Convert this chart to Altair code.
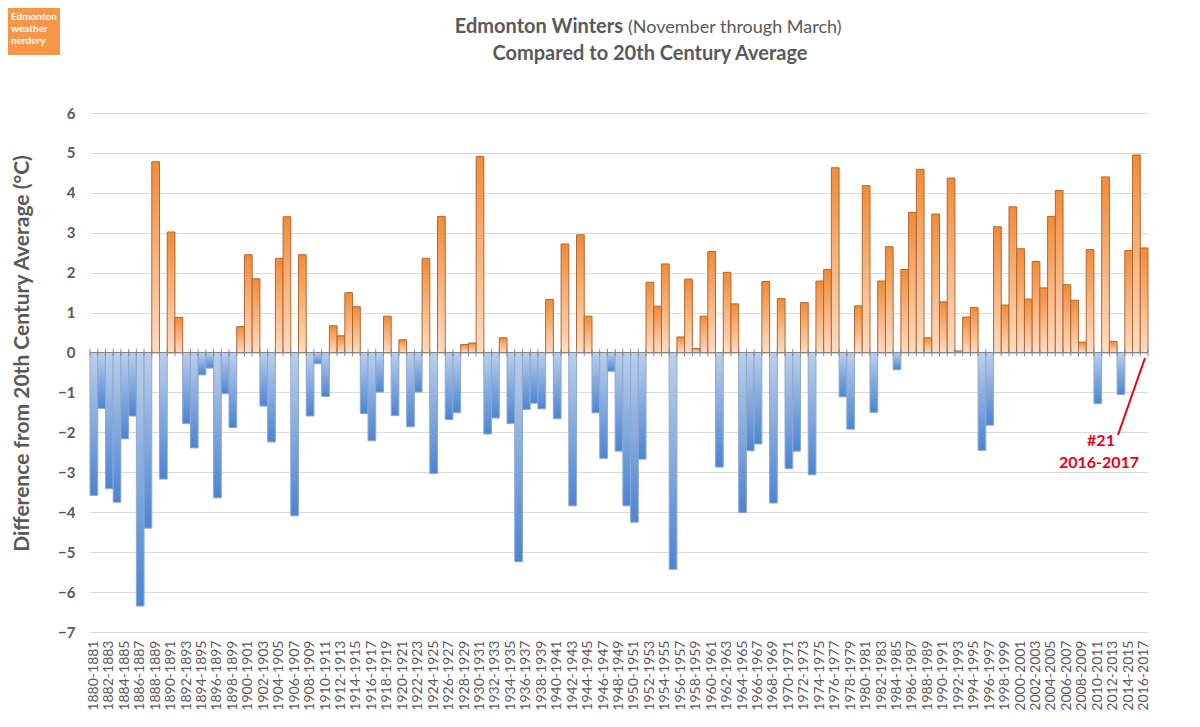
import altair as alt
import pandas as pd

# ---- data ----
start_years = list(range(1880, 2017))
labels = [f"{y}-{y+1}" for y in start_years]
values = [
    -3.58, -1.40, -3.41, -3.75, -2.16, -1.59, -6.35, -4.40, 4.78, -3.17,
    3.02, 0.88, -1.78, -2.39, -0.56, -0.39, -3.64, -1.03, -1.88, 0.65,
    2.45, 1.85, -1.34, -2.24, 2.36, 3.40, -4.09, 2.45, -1.59, -0.28,
    -1.10, 0.67, 0.42, 1.50, 1.15, -1.53, -2.21, -0.99, 0.91, -1.58,
    0.32, -1.86, -0.99, 2.36, -3.03, 3.41, -1.68, -1.51, 0.20, 0.24,
    4.91, -2.04, -1.64, 0.37, -1.78, -5.24, -1.43, -1.27, -1.41, 1.33,
    -1.66, 2.72, -3.84, 2.95, 0.91, -1.51, -2.65, -0.47, -2.47, -3.84,
    -4.25, -2.67, 1.76, 1.16, 2.22, -5.43, 0.39, 1.84, 0.10, 0.91,
    2.53, -2.87, 2.01, 1.22, -4.01, -2.46, -2.29, 1.78, -3.77, 1.35,
    -2.91, -2.47, 1.25, -3.06, 1.79, 2.08, 4.63, -1.11, -1.92, 1.17,
    4.18, -1.50, 1.79, 2.65, -0.43, 2.08, 3.51, 4.59, 0.37, 3.47,
    1.27, 4.37, 0.04, 0.89, 1.13, -2.45, -1.82, 3.15, 1.19, 3.65,
    2.60, 1.34, 2.28, 1.62, 3.41, 4.06, 1.70, 1.31, 0.26, 2.58,
    -1.28, 4.40, 0.28, -1.05, 2.56, 4.95, 2.62,
]
shown_labels = labels[::2]
y_ticks = list(range(-7, 7))

title_bold = "Edmonton Winters"
title_regular = "(November through March)"
title_line2 = "Compared to 20th Century Average"
y_title = "Difference from 20th Century Average (°C)"
badge_lines = ["Edmonton", "weather", "nerdery"]
note_lines = ["#21", "2016-2017"]

df = pd.DataFrame({"label": labels, "value": values})
one = pd.DataFrame({"k": [0]})

GRAY = "#595959"
FONT = "Lato"
W, H = 1058, 519

x_scale = alt.Scale(paddingInner=0, paddingOuter=0)
x_axis = alt.Axis(
    values=shown_labels, title=None, labelAngle=270, labelAlign="right",
    labelBaseline="middle", labelPadding=8, labelFontSize=14,
    labelColor=GRAY, labelFont=FONT, ticks=False, domain=False,
    grid=False, labelOverlap=False,
)
y_scale = alt.Scale(domain=[-7, 6], nice=False, zero=True)
y_axis = alt.Axis(
    values=y_ticks, format="d", title=y_title, titleFontSize=21,
    titleFont=FONT, titleFontWeight="bold", titleColor=GRAY,
    titleX=-68, titleY=240, titleAngle=270, titleBaseline="middle",
    labelFontSize=15, labelFontWeight="bold", labelColor=GRAY,
    labelFont=FONT, labelPadding=15, ticks=False, domain=False,
    grid=True, gridColor="#d9d9d9", gridWidth=1,
)

def xf(band=None):
    if band is None:
        return alt.X("label:N", sort=labels, scale=x_scale, axis=x_axis)
    return alt.X("label:N", sort=labels, scale=x_scale, axis=x_axis, bandPosition=band)

def yd(d):
    return alt.Y(datum=d, scale=y_scale, axis=y_axis)

y_enc = alt.Y("value:Q", scale=y_scale, axis=y_axis)

orange_grad = {
    "gradient": "linear", "x1": 0, "x2": 0, "y1": 0, "y2": 1,
    "stops": [{"offset": 0, "color": "#f38a36"}, {"offset": 1, "color": "#ffdcc4"}],
}
blue_grad = {
    "gradient": "linear", "x1": 0, "x2": 0, "y1": 0, "y2": 1,
    "stops": [{"offset": 0, "color": "#bccfeb"}, {"offset": 1, "color": "#4a84d3"}],
}

base = alt.Chart(df)
pos = base.transform_filter("datum.value >= 0").mark_bar(
    fill=orange_grad, stroke="#ad6a33", strokeWidth=1
).encode(x=xf(), y=y_enc)
neg = base.transform_filter("datum.value < 0").mark_bar(
    fill=blue_grad, stroke="#8fa8cc", strokeWidth=1
).encode(x=xf(), y=y_enc)

zero = alt.Chart(one).mark_rule(color="#868686", strokeWidth=1).encode(
    y=yd(0)
)
ticks = base.mark_rule(color="#868686", strokeWidth=1).encode(
    x=xf(0), y=yd(0.09), y2=alt.Y2(datum=-0.09),
)
ticks_end = base.transform_filter(alt.datum.label == labels[-1]).mark_rule(
    color="#868686", strokeWidth=1
).encode(
    x=xf(1), y=yd(0.09), y2=alt.Y2(datum=-0.09),
)

def txt(s, x, y, size, weight="bold", color=GRAY, align="center"):
    return alt.Chart(one).mark_text(
        text=s, fontSize=size, fontWeight=weight, color=color, font=FONT,
        align=align, baseline="middle",
    ).encode(x=alt.value(x), y=alt.value(y))

t1a = txt(title_bold, 533, -86, 20, align="right")
t1b = txt(title_regular, 538, -85, 18, weight="normal", align="left")
t2 = txt(title_line2, 560, -59, 20)

badge = alt.Chart(one).mark_rect(color="#f79646").encode(
    x=alt.value(-82), x2=alt.value(-30), y=alt.value(-105), y2=alt.value(-58)
)
b1 = txt(badge_lines[0], -79, -96, 10, color="white", align="left")
b2 = txt(badge_lines[1], -79, -84, 10, color="white", align="left")
b3 = txt(badge_lines[2], -79, -72, 10, color="white", align="left")

note_line = alt.Chart(one).mark_rule(color="#e3001b", strokeWidth=2).encode(
    x=alt.value(1055), x2=alt.value(1028), y=alt.value(245), y2=alt.value(322)
)
n1 = txt(note_lines[0], 1011, 328, 16, color="#e3001b")
n2 = txt(note_lines[1], 1009, 350, 16, color="#e3001b")

chart = alt.layer(
    pos, neg, zero, ticks, ticks_end, t1a, t1b, t2, badge, b1, b2, b3,
    note_line, n1, n2,
).properties(
    width=W, height=H,
    autosize=alt.AutoSizeParams(type="none"),
    padding={"left": 82, "top": 105, "right": 40, "bottom": 85},
).configure(font=FONT).configure_view(stroke=None)

chart.save("out.html", embed_options={"renderer": "svg", "actions": False})
